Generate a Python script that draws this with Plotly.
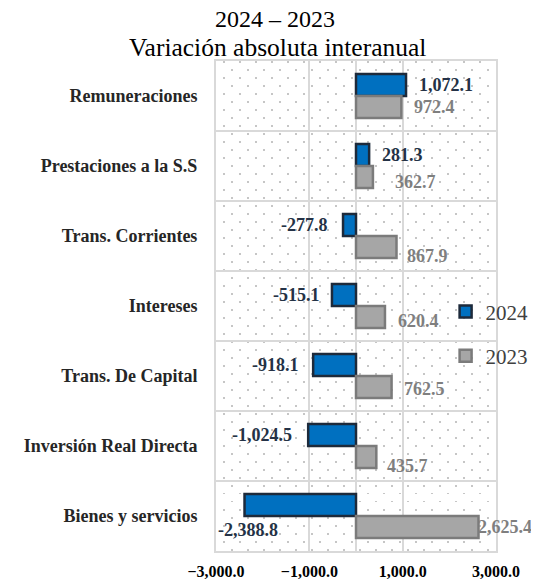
import plotly.graph_objects as go

categories = ["Remuneraciones", "Prestaciones a la S.S", "Trans. Corrientes", "Intereses",
              "Trans. De Capital", "Inversión Real Directa", "Bienes y servicios"]
values_2024 = [1072.1, 281.3, -277.8, -515.1, -918.1, -1024.5, -2388.8]
values_2023 = [972.4, 362.7, 867.9, 620.4, 762.5, 435.7, 2625.4]
series_names = ["2024", "2023"]

# styles
FONT = "Liberation Serif, Times New Roman, Times, serif"
BLUE, BLUE_LINE = "#0070C0", "#1d2a3b"
GRAY, GRAY_LINE = "#a6a6a6", "#7b7b7b"
LBL_BLUE, LBL_GRAY = "#243246", "#7f7f7f"
GRID = "#d9d9d9"
DOT = "#c6c6c6"

# label offsets (pixels) for manual-style label placement
blue_dx = [11, 11, -13, -10, -12, -14, -29]
blue_dy = [11, 11, 11, 11, 11, 11, -14]
gray_dx = [11, 20, 8, 11, 10, 9, -3]
gray_dy = [-11, -16, -20, -15, -13, -20, -11]

xmin, xmax = -3000, 3000
plot_w = 280
step16 = (xmax - xmin) / plot_w * 16

fig = go.Figure()
fig.add_trace(go.Bar(y=categories, x=values_2024, name=series_names[0], orientation="h",
                     marker=dict(color=BLUE, line=dict(color=BLUE_LINE, width=2.5)),
                     legendgroup="a"))
fig.add_trace(go.Bar(y=categories, x=values_2023, name=series_names[1], orientation="h",
                     marker=dict(color=GRAY, line=dict(color=GRAY_LINE, width=2.5)),
                     legendgroup="b"))

ann = []
for i, (c, v) in enumerate(zip(categories, values_2024)):
    left = v >= 0 or blue_dx[i] < -20
    ann.append(dict(x=v, y=c, xref="x", yref="y", text=f"{v:,.1f}", showarrow=False,
                    xanchor="left" if left else "right", xshift=blue_dx[i], yshift=blue_dy[i],
                    font=dict(family=FONT, size=18, color=LBL_BLUE, weight="bold")))
for i, (c, v) in enumerate(zip(categories, values_2023)):
    ann.append(dict(x=v, y=c, xref="x", yref="y", text=f"{v:,.1f}", showarrow=False,
                    xanchor="left", xshift=gray_dx[i], yshift=gray_dy[i],
                    font=dict(family=FONT, size=18, color=LBL_GRAY, weight="bold")))
ann.append(dict(x=0.218, y=1, xref="paper", yref="paper", text="Variación absoluta interanual",
                showarrow=False, xanchor="center", yanchor="bottom", yshift=-3,
                font=dict(family=FONT, size=25.5, color="#000000")))
ann.append(dict(x=0.211, y=1, xref="paper", yref="paper", text="2024 – 2023",
                showarrow=False, xanchor="center", yanchor="bottom", yshift=27,
                font=dict(family=FONT, size=24, color="#000000")))

# the page body adds an 8px offset; margins compensate so the plot lands at (216, 61)
fig.update_layout(
    width=531, height=571, autosize=False,
    margin=dict(l=208, r=43, t=53, b=28, autoexpand=False),
    paper_bgcolor="white", plot_bgcolor="white",
    barmode="group", bargap=0.37, bargroupgap=0,
    showlegend=True,
    legend=dict(x=0.82, xanchor="left", y=0.53, yanchor="top",
                font=dict(family=FONT, size=21, color="#404040"),
                bgcolor="rgba(0,0,0,0)", traceorder="grouped", tracegroupgap=14),
    annotations=ann,
    xaxis=dict(range=[xmin, xmax], tick0=-3000, dtick=2000, tickformat=",.1f",
               automargin=False,
               showgrid=True, gridcolor=GRID, gridwidth=2,
               zeroline=True, zerolinecolor=GRID, zerolinewidth=2,
               showline=True, mirror=True, linecolor=GRID, linewidth=2,
               ticks="", ticklabelstandoff=5,
               tickfont=dict(family=FONT, size=16, color="#000000", weight="bold"),
               minor=dict(tick0=xmin, dtick=step16, showgrid=True, gridcolor=DOT,
                          gridwidth=1.5, griddash="0px,8px,1.5px,6.5px"),
               fixedrange=True),
    xaxis2=dict(range=[xmin, xmax], overlaying="x", anchor="y", side="bottom",
                automargin=False,
                showgrid=False, zeroline=False, showticklabels=False, ticks="",
                tick0=xmin, dtick=2000,
                minor=dict(tick0=xmin + step16 / 2, dtick=step16, showgrid=True, gridcolor=DOT,
                           gridwidth=1.5, griddash="1.5px,14.5px")),
    yaxis=dict(type="category", categoryorder="array", categoryarray=categories,
               autorange="reversed", tickson="boundaries", automargin=False,
               showgrid=True, gridcolor=GRID, gridwidth=2,
               showline=True, mirror=True, linecolor=GRID, linewidth=2,
               ticks="", ticklabelstandoff=13,
               tickfont=dict(family=FONT, size=18, color="#262626", weight="bold")),
)
fig.add_trace(go.Scatter(x=[None], y=[None], xaxis="x2", showlegend=False, hoverinfo="skip"))

fig.write_html("out.html")
